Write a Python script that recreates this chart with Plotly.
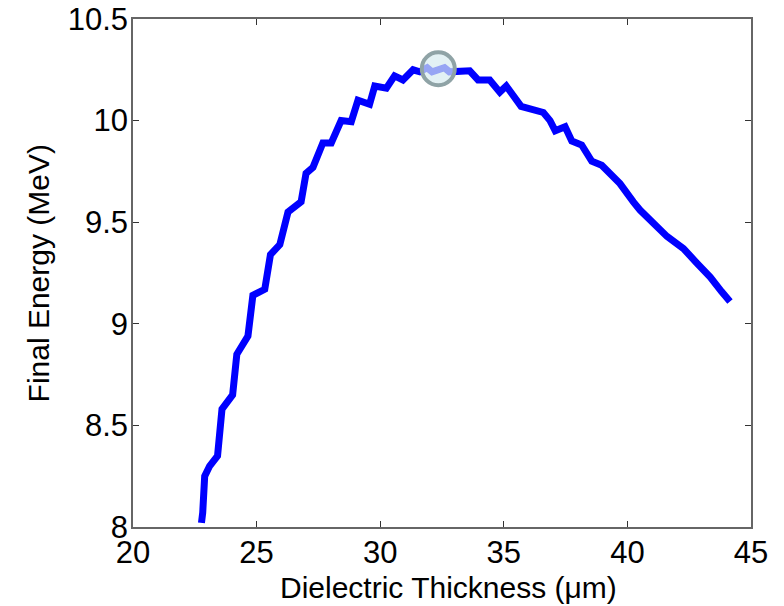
import plotly.graph_objects as go

thickness = [22.77, 22.82, 22.9, 23.1, 23.42, 23.6, 24.03, 24.2, 24.65, 24.85, 25.33, 25.56,
             25.94, 26.27, 26.8, 27.0, 27.28, 27.68, 28.02, 28.42, 28.83, 29.1, 29.57, 29.78,
             30.25, 30.58, 30.92, 31.33, 31.6, 31.9, 32.1, 32.4, 32.6, 32.8, 33.07, 33.62,
             33.96, 34.43, 34.84, 35.1, 35.7, 36.04, 36.6, 36.87, 37.08, 37.48, 37.75, 38.15,
             38.56, 38.96, 39.7, 40.24, 40.51, 41.6, 42.27, 42.8, 43.35, 43.8, 44.15]
energy = [8.02, 8.07, 8.25, 8.30, 8.35, 8.58, 8.65, 8.85, 8.94, 9.14, 9.17, 9.34,
          9.39, 9.55, 9.60, 9.74, 9.77, 9.89, 9.89, 10.0, 9.995, 10.1, 10.08, 10.17,
          10.16, 10.22, 10.20, 10.25, 10.24, 10.26, 10.24, 10.25, 10.26, 10.24, 10.24, 10.245,
          10.2, 10.2, 10.14, 10.17, 10.07, 10.06, 10.04, 10.0, 9.95, 9.97, 9.90, 9.88,
          9.80, 9.78, 9.69, 9.60, 9.56, 9.43, 9.37, 9.30, 9.23, 9.16, 9.11]

peak_x = [32.35]
peak_y = [10.255]

x_ticks = [20, 25, 30, 35, 40, 45]
y_ticks = [8, 8.5, 9, 9.5, 10, 10.5]
y_ticklabels = ["8", "8.5", "9", "9.5", "10", "10.5"]

x_title = "Dielectric Thickness (μm)"
y_title = "Final Energy (MeV)"

fig = go.Figure()
fig.add_trace(go.Scatter(x=thickness, y=energy, mode="lines",
                         line=dict(color="#0000ff", width=7), showlegend=False))
fig.add_trace(go.Scatter(x=peak_x, y=peak_y, mode="markers",
                         marker=dict(size=33, color="rgba(215,235,240,0.7)",
                                     line=dict(color="#8fa3a6", width=4)),
                         showlegend=False))

font_family = "Liberation Sans, Arial, sans-serif"
axis_common = dict(ticks="inside", ticklen=6, tickcolor="#333", showline=True,
                   linecolor="#666", linewidth=1.5, mirror="ticks", showgrid=False,
                   zeroline=False, automargin=False, tickfont=dict(size=31),
                   ticklabelstandoff=-3)
fig.update_layout(
    width=784, height=606,
    margin=dict(l=133, r=33, t=19, b=79),
    paper_bgcolor="white", plot_bgcolor="white",
    font=dict(family=font_family, color="black", size=31),
    xaxis=dict(range=[20, 45], tickvals=x_ticks, **axis_common),
    yaxis=dict(range=[8, 10.5], tickvals=y_ticks, ticktext=y_ticklabels, **axis_common),
    annotations=[
        dict(text=x_title, xref="paper", yref="paper", x=0.51, y=-0.119,
             xanchor="center", yanchor="middle", showarrow=False, font=dict(size=30)),
        dict(text=y_title, xref="paper", yref="paper", x=-0.153, y=0.5, textangle=-90,
             xanchor="center", yanchor="middle", showarrow=False, font=dict(size=30)),
    ],
)
fig.write_html("out.html", config={"displayModeBar": False},
               post_script="document.body.style.margin='0';document.body.style.overflow='hidden';")
